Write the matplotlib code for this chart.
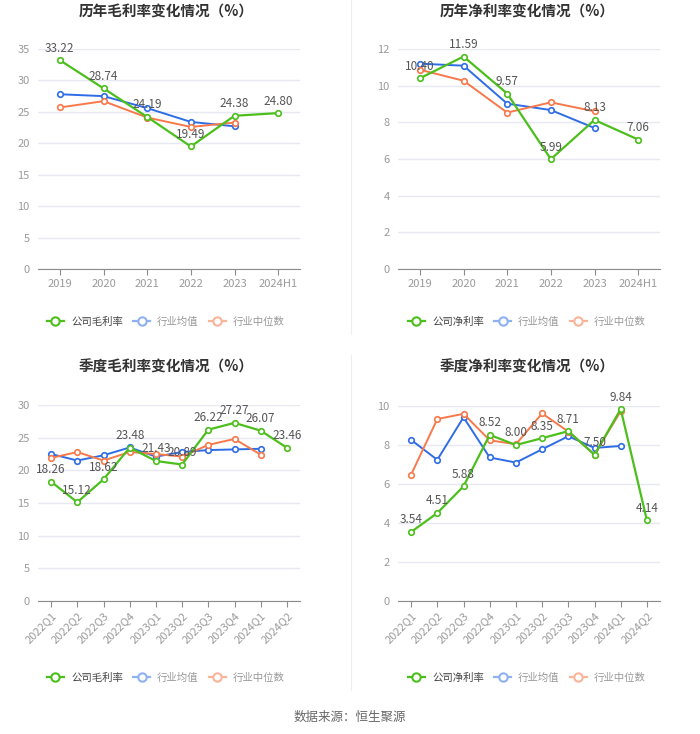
import matplotlib.pyplot as plt
from matplotlib.lines import Line2D
import numpy as np

plt.rcParams["font.family"] = ["Noto Sans CJK SC", "DejaVu Sans"]

YEARS = ["2019", "2020", "2021", "2022", "2023", "2024H1"]
QUARTERS = ["2022Q1", "2022Q2", "2022Q3", "2022Q4", "2023Q1",
            "2023Q2", "2023Q3", "2023Q4", "2024Q1", "2024Q2"]

# annual gross margin
gm_year = [33.22, 28.74, 24.19, 19.49, 24.38, 24.80]
gm_year_avg = [27.8, 27.5, 25.6, 23.4, 22.7]
gm_year_med = [25.7, 26.7, 24.1, 22.6, 23.3]

# annual net margin
nm_year = [10.40, 11.59, 9.57, 5.99, 8.13, 7.06]
nm_year_avg = [11.2, 11.09, 9.02, 8.67, 7.69]
nm_year_med = [10.87, 10.27, 8.53, 9.09, 8.60]

# quarterly gross margin
gm_q = [18.26, 15.12, 18.62, 23.48, 21.43, 20.89, 26.22, 27.27, 26.07, 23.46]
gm_q_avg = [22.5, 21.5, 22.3, 23.5, 22.1, 22.8, 23.1, 23.2, 23.3]
gm_q_med = [21.9, 22.8, 21.5, 22.8, 22.5, 22.1, 23.9, 24.8, 22.4]

# quarterly net margin
nm_q = [3.54, 4.51, 5.88, 8.52, 8.00, 8.35, 8.71, 7.50, 9.84, 4.14]
nm_q_avg = [8.26, 7.24, 9.42, 7.36, 7.10, 7.78, 8.45, 7.85, 7.95]
nm_q_med = [6.48, 9.33, 9.60, 8.24, 8.04, 9.62, 8.69, 7.51, 9.73]

GREEN = "#4cbf1c"
BLUE = "#2f6de6"
ORANGE = "#f7794b"
GRID = "#e6e9f2"

fig = plt.figure(figsize=(7.0, 7.34), dpi=100)

W, H = 700, 734


def make_ax(x0, y_top, x1, y_bot):
    return fig.add_axes([x0 / W, 1 - y_bot / H, (x1 - x0) / W, (y_bot - y_top) / H])


def draw(ax, cats, comp, avg, med, ymax, step, comp_name, rotate):
    x = np.arange(len(cats))
    ax.set_xlim(-0.5, len(cats) - 0.5)
    ax.set_ylim(0, ymax)
    ax.set_yticks(np.arange(0, ymax + 0.01, step))
    ax.yaxis.grid(True, color=GRID, lw=1)
    ax.set_axisbelow(True)
    for s in ["top", "right", "left"]:
        ax.spines[s].set_visible(False)
    ax.spines["bottom"].set_color("#8c8c8c")
    ax.tick_params(axis="y", length=0, labelsize=8, labelcolor="#9a9a9a", pad=6)
    ax.tick_params(axis="x", length=4, color="#8c8c8c", labelsize=8,
                   labelcolor="#9a9a9a", pad=3)
    ax.set_xticks(x)
    if rotate:
        ax.set_xticklabels(cats, rotation=45, ha="right", rotation_mode="anchor")
    else:
        ax.set_xticklabels(cats)

    mk = dict(marker="o", markersize=4, markerfacecolor="white", markeredgewidth=1.2)
    ax.plot(x[:len(avg)], avg, color=BLUE, lw=1.4, zorder=3, **mk)
    ax.plot(x[:len(med)], med, color=ORANGE, lw=1.4, zorder=3, **mk)
    ax.plot(x, comp, color=GREEN, lw=1.6, zorder=4, **mk)
    for xi, v in zip(x, comp):
        ax.annotate(f"{v:.2f}", (xi, v), xytext=(0, 4), textcoords="offset points",
                    ha="center", va="bottom", fontsize=8.5, color="#555555", zorder=5)

    handles = [
        Line2D([], [], color=c, lw=1.6, marker="o", markersize=6,
               markerfacecolor="white", markeredgewidth=1.5)
        for c in [GREEN, "#8fb0f2", "#f9b49a"]
    ]
    leg = ax.legend(handles, [comp_name, "行业均值", "行业中位数"], ncol=3,
                    frameon=False, loc="center", fontsize=7.5, handlelength=1.6,
                    handletextpad=0.7, columnspacing=1.0)
    for i, t in enumerate(leg.get_texts()):
        t.set_color("#444444" if i == 0 else "#999999")
    return leg


panels = [
    (make_ax(38, 49, 300, 269), YEARS, gm_year, gm_year_avg, gm_year_med, 35, 5,
     "历年毛利率变化情况（%）", "公司毛利率", False, 166, 12, 322),
    (make_ax(398, 49, 660, 269), YEARS, nm_year, nm_year_avg, nm_year_med, 12, 2,
     "历年净利率变化情况（%）", "公司净利率", False, 527, 12, 322),
    (make_ax(38, 405, 300, 601), QUARTERS, gm_q, gm_q_avg, gm_q_med, 30, 5,
     "季度毛利率变化情况（%）", "公司毛利率", True, 166, 367, 678),
    (make_ax(398, 406, 660, 601), QUARTERS, nm_q, nm_q_avg, nm_q_med, 10, 2,
     "季度净利率变化情况（%）", "公司净利率", True, 527, 367, 678),
]

for ax, cats, comp, avg, med, ymax, step, title, name, rot, cx, ty, ly in panels:
    leg = draw(ax, cats, comp, avg, med, ymax, step, name, rot)
    leg.set_bbox_to_anchor((cx / W, 1 - ly / H), transform=fig.transFigure)
    fig.text(cx / W, 1 - ty / H, title, ha="center", va="center",
             fontsize=10.5, fontweight="bold", color="#333333")

# light dividers between panels
fig.add_artist(Line2D([351 / W, 351 / W], [1 - 0 / H, 1 - 334 / H], color="#eeeeee", lw=0.8))
fig.add_artist(Line2D([351 / W, 351 / W], [1 - 355 / H, 1 - 690 / H], color="#eeeeee", lw=0.8))

fig.text(0.5, 1 - 717 / H, "数据来源：恒生聚源", ha="center", va="center",
         fontsize=9, color="#666666")

fig.savefig("out.png", dpi=100)
